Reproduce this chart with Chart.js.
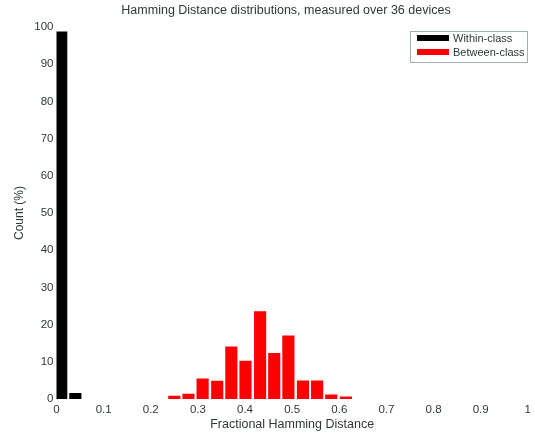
<!DOCTYPE html>
<html>
<head>
<meta charset="utf-8">
<title>Hamming Distance distributions</title>
<script src="https://cdn.jsdelivr.net/npm/chart.js@4.4.0/dist/chart.umd.min.js"></script>
<style>
  html, body { margin: 0; padding: 0; background: #fff; }
  canvas { display: block; }
</style>
</head>
<body>
<canvas id="grafico" width="535" height="437"></canvas>
<script>
// datos (Count %)
const tituloGrafico = 'Hamming Distance distributions, measured over 36 devices';
const etiquetaX = 'Fractional Hamming Distance';
const etiquetaY = 'Count (%)';

const withinX = [0.010, 0.040];
const withinY = [98.7, 1.5];

const betweenX = [0.250, 0.280, 0.310, 0.341, 0.371, 0.401, 0.432, 0.462, 0.492, 0.523, 0.553, 0.583, 0.614];
const betweenY = [0.8, 1.3, 5.4, 4.8, 14.0, 10.2, 23.5, 12.3, 17.0, 4.9, 4.9, 1.1, 0.6];

const xTicks = [0, 0.1, 0.2, 0.3, 0.4, 0.5, 0.6, 0.7, 0.8, 0.9, 1];
const yTicks = [0, 10, 20, 30, 40, 50, 60, 70, 80, 90, 100];

const FONT = "'Liberation Sans', Arial, sans-serif";
const TEXTO = '#2f3838';

const toPoints = (xs, ys) => xs.map((x, i) => ({ x, y: ys[i] }));

// título y leyenda con caja, al estilo del original
const decoracion = {
    id: 'decoracion',
    afterDraw(chart) {
        const ctx = chart.ctx;
        ctx.save();
        ctx.fillStyle = TEXTO;
        ctx.font = `12.5px ${FONT}`;
        ctx.textAlign = 'center';
        ctx.textBaseline = 'middle';
        ctx.fillText(tituloGrafico, 286, 11);

        // caja de la leyenda
        const bx = 410.5, by = 31.5, bw = 117, bh = 31;
        ctx.fillStyle = '#fff';
        ctx.fillRect(bx, by, bw, bh);
        ctx.strokeStyle = '#9fb0b0';
        ctx.lineWidth = 1;
        ctx.strokeRect(bx, by, bw, bh);

        ctx.font = `11px ${FONT}`;
        ctx.textAlign = 'left';
        chart.data.datasets.forEach((ds, i) => {
            const y = 35 + i * 14;
            ctx.fillStyle = ds.backgroundColor;
            ctx.fillRect(417, y, 32, 6);
            ctx.fillStyle = TEXTO;
            ctx.fillText(ds.label, 453, y + 3.5);
        });
        ctx.restore();
    }
};

new Chart(document.getElementById('grafico'), {
    type: 'bar',
    data: {
        datasets: [
            { label: 'Within-class', data: toPoints(withinX, withinY), backgroundColor: '#000000' },
            { label: 'Between-class', data: toPoints(betweenX, betweenY), backgroundColor: '#ff0000' }
        ]
    },
    options: {
        responsive: false,
        animation: false,
        devicePixelRatio: 1,
        layout: { padding: { left: 0, right: 5, top: 27, bottom: 0 } },
        datasets: { bar: { grouped: false, barThickness: 11.5, borderWidth: 0 } },
        plugins: {
            legend: { display: false },
            title: { display: false },
            tooltip: { enabled: false }
        },
        scales: {
            x: {
                type: 'linear',
                min: 0,
                max: 1,
                offset: false,
                afterBuildTicks: (axis) => { axis.ticks = xTicks.map(v => ({ value: v })); },
                afterFit: (scale) => { scale.height = 38; },
                grid: { display: false, drawTicks: false, offset: false },
                border: { display: false },
                ticks: {
                    padding: 4,
                    color: TEXTO,
                    font: { family: FONT, size: 11.5 },
                    maxRotation: 0,
                    autoSkip: false,
                    callback: (v) => String(v)
                },
                title: {
                    display: true,
                    text: etiquetaX,
                    color: TEXTO,
                    font: { family: FONT, size: 12.5 },
                    padding: { top: 0, bottom: 4.5 }
                }
            },
            y: {
                min: 0,
                max: 100,
                afterBuildTicks: (axis) => { axis.ticks = yTicks.map(v => ({ value: v })); },
                afterFit: (scale) => { scale.width = 56.5; },
                grid: { display: false, drawTicks: false },
                border: { display: false },
                ticks: {
                    padding: 3,
                    color: TEXTO,
                    font: { family: FONT, size: 11.5 },
                    autoSkip: false,
                    callback: (v) => String(v)
                },
                title: {
                    display: true,
                    text: etiquetaY,
                    color: TEXTO,
                    font: { family: FONT, size: 12 },
                    padding: { top: 12, bottom: 0 }
                }
            }
        }
    },
    plugins: [decoracion]
});
</script>
</body>
</html>
